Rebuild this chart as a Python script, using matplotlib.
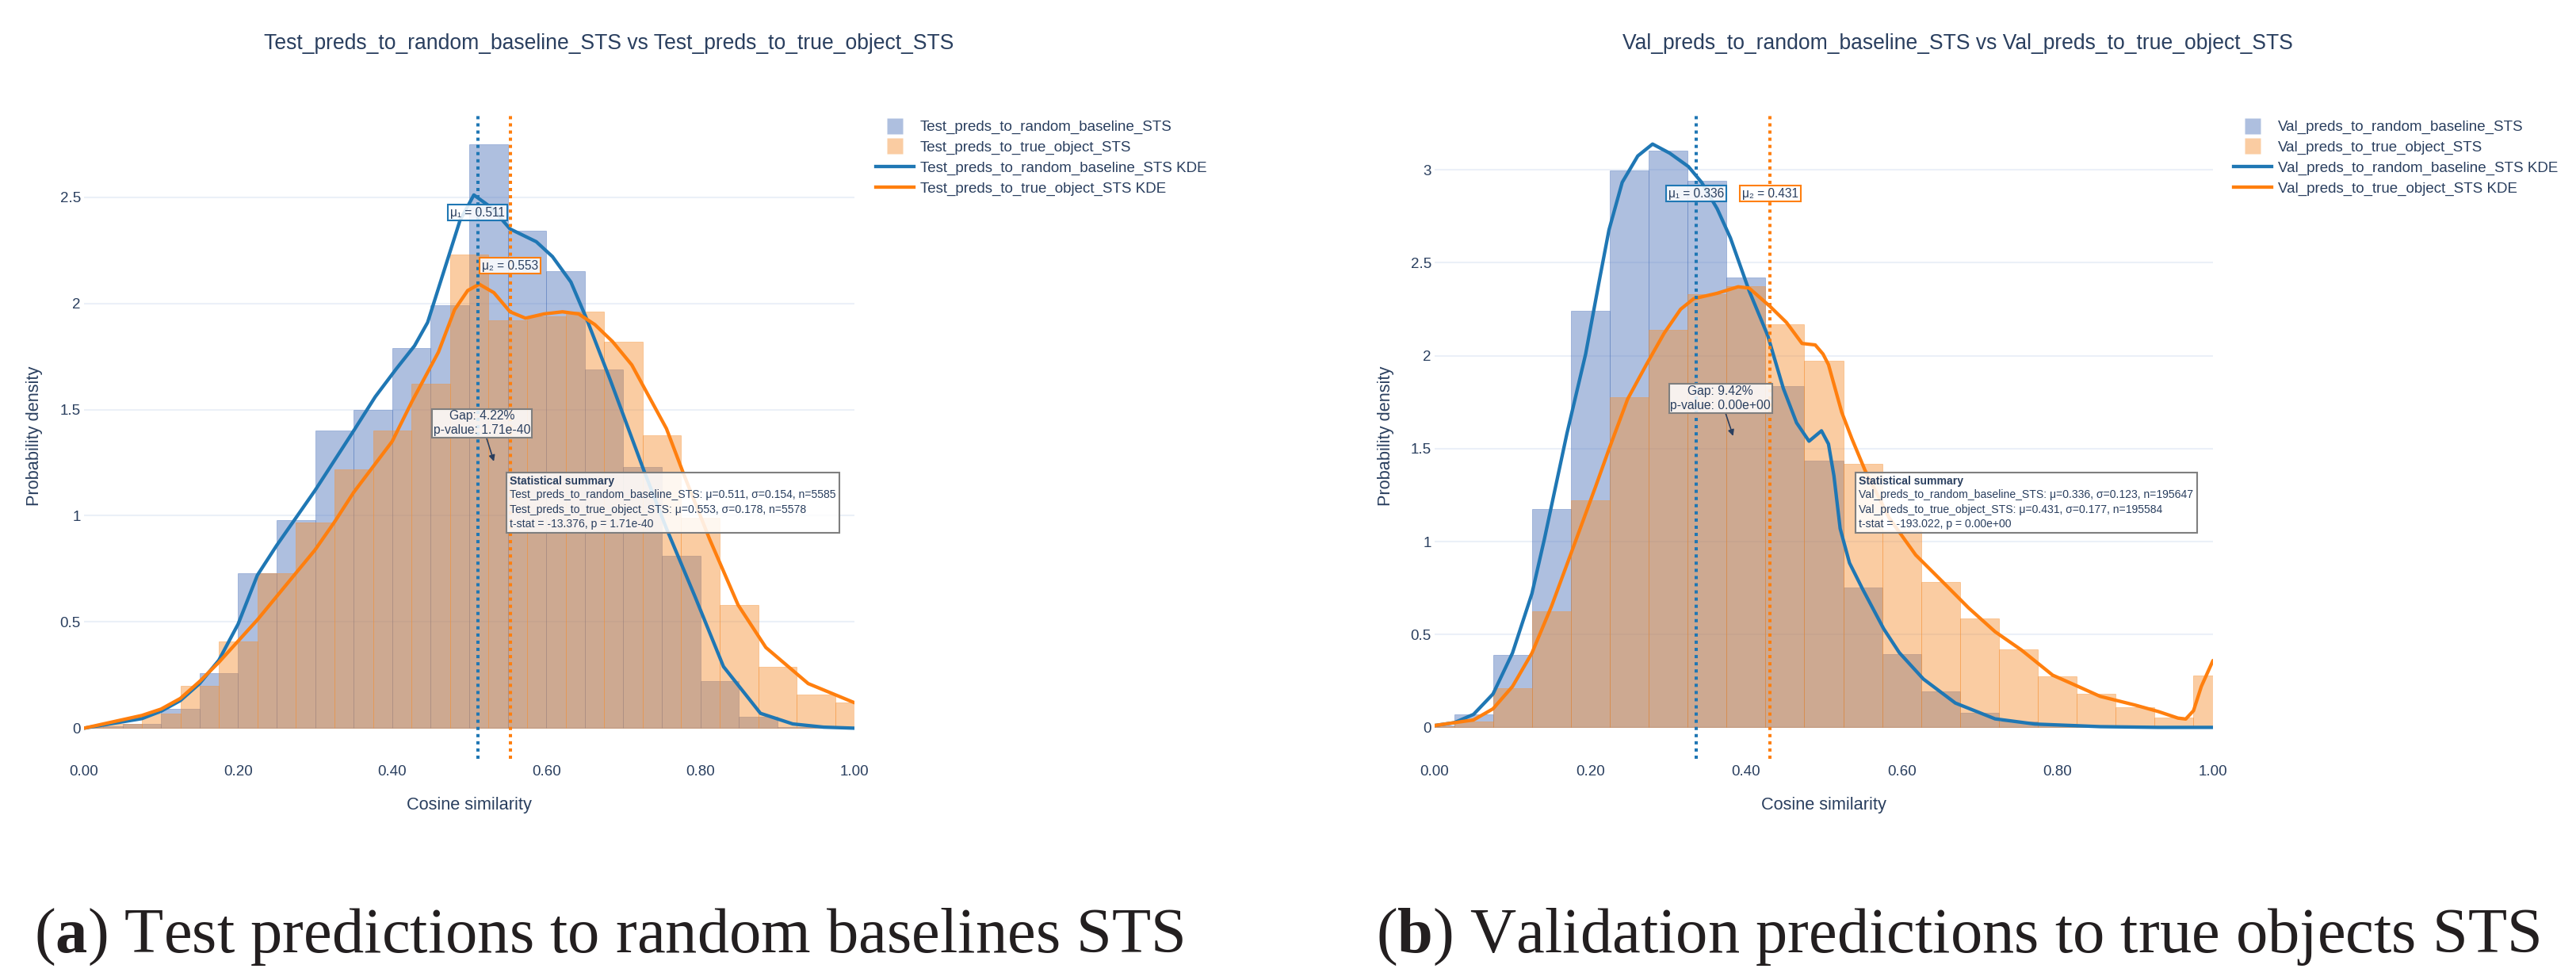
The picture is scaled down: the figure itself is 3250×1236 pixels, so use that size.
import matplotlib
matplotlib.use("Agg")
import matplotlib.pyplot as plt
from matplotlib.lines import Line2D
from matplotlib.patches import Rectangle
import numpy as np

plt.rcParams['font.family'] = ['Liberation Sans', 'DejaVu Sans']
plt.rcParams['mathtext.fontset'] = 'custom'
plt.rcParams['mathtext.rm'] = 'Liberation Serif'
plt.rcParams['mathtext.bf'] = 'Liberation Serif:bold'

# ---------------- data: test split ----------------
test_names = ["Test_preds_to_random_baseline_STS", "Test_preds_to_true_object_STS"]
test_bin_width = 0.05
test_rand_bin_start = 0.0
test_rand_hist = [0.01, 0.02, 0.09, 0.26, 0.73, 0.98, 1.40, 1.50, 1.79, 1.99,
                  2.75, 2.34, 2.15, 1.69, 1.23, 0.81, 0.22, 0.055, 0.005, 0.0]
test_true_bin_start = -0.025
test_true_hist = [0.005, 0.02, 0.07, 0.20, 0.41, 0.73, 0.97, 1.22, 1.40, 1.62, 2.23,
                  1.92, 1.94, 1.96, 1.82, 1.38, 0.99, 0.58, 0.29, 0.16, 0.12]
test_rand_kde_x = [0.0, 0.05, 0.075, 0.10, 0.125, 0.15, 0.175, 0.20, 0.225, 0.25, 0.275, 0.30,
                   0.325, 0.35, 0.378, 0.405, 0.429, 0.446, 0.474, 0.488, 0.506, 0.529, 0.553,
                   0.587, 0.608, 0.632, 0.652, 0.683, 0.727, 0.756, 0.793, 0.830, 0.878, 0.92,
                   0.96, 1.0]
test_rand_kde_y = [0.0, 0.03, 0.045, 0.08, 0.13, 0.21, 0.32, 0.49, 0.72, 0.86, 0.99, 1.12,
                   1.26, 1.40, 1.56, 1.69, 1.80, 1.91, 2.23, 2.39, 2.51, 2.45, 2.35,
                   2.29, 2.22, 2.10, 1.93, 1.64, 1.21, 0.94, 0.62, 0.29, 0.07, 0.02,
                   0.005, 0.0]
test_true_kde_x = [0.0, 0.05, 0.075, 0.10, 0.125, 0.15, 0.175, 0.20, 0.225, 0.25, 0.275, 0.30,
                   0.325, 0.35, 0.375, 0.40, 0.426, 0.460, 0.481, 0.498, 0.513, 0.532, 0.553,
                   0.573, 0.597, 0.621, 0.642, 0.663, 0.686, 0.711, 0.756, 0.779, 0.812, 0.849,
                   0.885, 0.940, 1.0]
test_true_kde_y = [0.0, 0.04, 0.06, 0.09, 0.14, 0.22, 0.31, 0.41, 0.51, 0.62, 0.73, 0.84,
                   0.97, 1.11, 1.23, 1.35, 1.54, 1.77, 1.97, 2.06, 2.09, 2.05, 1.96,
                   1.93, 1.95, 1.96, 1.95, 1.90, 1.82, 1.71, 1.41, 1.19, 0.89, 0.58,
                   0.38, 0.21, 0.12]
test_means = [0.511, 0.553]
test_stds = [0.154, 0.178]
test_ns = [5585, 5578]
test_tstat = -13.376
test_p = 1.71e-40
test_gap = 4.22

# ---------------- data: validation split ----------------
val_names = ["Val_preds_to_random_baseline_STS", "Val_preds_to_true_object_STS"]
val_bin_width = 0.05
val_rand_bin_start = -0.025
val_rand_hist = [0.01, 0.068, 0.388, 1.174, 2.242, 2.998, 3.104, 2.94, 2.421, 1.838, 1.436,
                 0.754, 0.395, 0.195, 0.080, 0.03, 0.01, 0.005, 0.002, 0.001, 0.001]
val_true_bin_start = -0.025
val_true_hist = [0.005, 0.03, 0.21, 0.625, 1.222, 1.777, 2.139, 2.331, 2.374, 2.168, 1.973,
                 1.418, 1.06, 0.783, 0.587, 0.421, 0.274, 0.181, 0.107, 0.054, 0.28]
val_rand_kde_x = [0.0, 0.025, 0.05, 0.075, 0.10, 0.125, 0.141, 0.170, 0.194, 0.211, 0.224,
                  0.241, 0.261, 0.280, 0.302, 0.326, 0.343, 0.363, 0.380, 0.404, 0.428, 0.448,
                  0.465, 0.481, 0.497, 0.506, 0.513, 0.521, 0.533, 0.550, 0.577, 0.597, 0.628,
                  0.669, 0.720, 0.771, 0.855, 0.93, 1.0]
val_rand_kde_y = [0.01, 0.025, 0.07, 0.18, 0.40, 0.72, 1.013, 1.582, 2.009, 2.392, 2.677,
                  2.933, 3.075, 3.139, 3.09, 3.018, 2.933, 2.791, 2.634, 2.350, 2.108, 1.824,
                  1.639, 1.54, 1.596, 1.525, 1.354, 1.070, 0.885, 0.743, 0.530, 0.402, 0.260,
                  0.131, 0.046, 0.018, 0.004, 0.0, 0.0]
val_true_kde_x = [0.0, 0.05, 0.075, 0.10, 0.125, 0.15, 0.182, 0.207, 0.224, 0.248, 0.272,
                  0.295, 0.316, 0.333, 0.363, 0.390, 0.404, 0.431, 0.452, 0.472, 0.489, 0.499,
                  0.506, 0.523, 0.536, 0.553, 0.584, 0.618, 0.652, 0.686, 0.720, 0.754, 0.794,
                  0.821, 0.855, 0.90, 0.93, 0.955, 0.965, 0.975, 0.985, 1.0]
val_true_kde_y = [0.01, 0.04, 0.10, 0.22, 0.40, 0.65, 1.013, 1.298, 1.497, 1.767, 1.952,
                  2.122, 2.25, 2.307, 2.336, 2.371, 2.364, 2.265, 2.179, 2.066, 2.058, 2.009,
                  1.952, 1.696, 1.554, 1.383, 1.127, 0.928, 0.786, 0.643, 0.515, 0.416, 0.281,
                  0.231, 0.167, 0.12, 0.085, 0.05, 0.045, 0.09, 0.22, 0.36]
val_means = [0.336, 0.431]
val_stds = [0.123, 0.177]
val_ns = [195647, 195584]
val_tstat = -193.022
val_p = 0.0
val_gap = 9.42

x_ticks = [0.0, 0.2, 0.4, 0.6, 0.8, 1.0]

# ---------------- style ----------------
TXT = '#2a3f5f'
HIST_BLUE = (76/255, 115/255, 186/255)
HIST_ORANGE = (245/255, 143/255, 50/255)
HIST_ALPHA = 0.45
KDE_BLUE = '#1f77b4'
KDE_ORANGE = '#ff7f0e'
GRID = '#ebf0f8'

W, H = 3250, 1236
fig = plt.figure(figsize=(W / 100, H / 100), dpi=100)


def fx(px):
    return px / W


def fy(py):
    return 1 - py / H


def panel(x0, x1, ylim, yticks, names, hists, kdes, means, label_ys,
          gap_text, arrow_y, gap_pos, stats_lines, stats_box, legend_x,
          title_x, caption):
    top, bot = 143, 957
    ax = fig.add_axes([fx(x0), fy(bot), (x1 - x0) / W, (bot - top) / H])
    ax.set_xlim(0, 1)
    ax.set_ylim(*ylim)
    for s in ax.spines.values():
        s.set_visible(False)
    ax.set_yticks(yticks)
    ax.set_yticklabels([f"{t:g}" for t in yticks])
    ax.set_xticks(x_ticks)
    ax.set_xticklabels([f"{t:.2f}" for t in x_ticks])
    ax.tick_params(axis='both', length=0, labelsize=13.5, labelcolor=TXT)
    ax.tick_params(axis='y', pad=3)
    ax.tick_params(axis='x', pad=6)
    ax.grid(axis='y', color=GRID, lw=1.5)
    ax.set_axisbelow(True)

    # histograms
    for (start, width, h), col, z in zip(hists, [HIST_BLUE, HIST_ORANGE], [1, 2]):
        edges = start + width * np.arange(len(h))
        ax.bar(edges, h, width=width, align='edge', color=col, alpha=HIST_ALPHA,
               edgecolor=col, linewidth=0.6, zorder=z)

    # KDE lines
    for (kx, ky), col, z in zip(kdes, [KDE_BLUE, KDE_ORANGE], [3, 4]):
        ax.plot(kx, ky, color=col, lw=3.1, zorder=z, solid_joinstyle='round',
                solid_capstyle='round')

    # mean lines and labels
    for i, (m, col, ly) in enumerate(zip(means, [KDE_BLUE, KDE_ORANGE], label_ys)):
        ax.axvline(m, ymin=0, ymax=1, color=col, lw=2.9, ls=(0, (1.0, 1.25)), zorder=5)
        ax.text(m, ly, f"μ{'₁₂'[i]} = {m:.3f}", ha='center', va='center', fontsize=11.2,
                color=TXT, zorder=9,
                bbox=dict(boxstyle='square,pad=0.18', fc=(1, 1, 1, 0.85), ec=col, lw=1.5))

    # gap annotation with arrow
    ax.annotate(gap_text, xy=(np.mean(means), arrow_y), xycoords='data',
                xytext=gap_pos, textcoords='axes fraction', ha='center', va='center',
                fontsize=11.3, color=TXT, linespacing=1.25, zorder=9,
                bbox=dict(boxstyle='square,pad=0.12', fc=(1, 1, 1, 0.85), ec='#7f7f7f', lw=1.5),
                arrowprops=dict(arrowstyle='-|>', color=TXT, lw=1.2, mutation_scale=11,
                                shrinkA=0, shrinkB=0))

    # statistical summary box
    bx0, bx1, by_top, by_bot, tx = stats_box
    ax.add_patch(Rectangle((bx0, by_bot), bx1 - bx0, by_top - by_bot, transform=ax.transAxes,
                           fc=(1, 1, 1, 0.85), ec='#7f7f7f', lw=1.5, zorder=8))
    line_ys = [0.4303, 0.4091, 0.3854, 0.3633]
    for j, (ln, yy) in enumerate(zip(stats_lines, line_ys)):
        ax.text(tx, yy, ln, transform=ax.transAxes, ha='left', va='center', fontsize=10.1,
                color=TXT, fontweight='bold' if j == 0 else 'normal', zorder=9)

    # axis titles
    ax.text(0.5, -0.0713, 'Cosine similarity', transform=ax.transAxes, ha='center',
            va='center', fontsize=15.7, color=TXT)
    ax.text(-62 / (x1 - x0), 0.5, 'Probability density', transform=ax.transAxes,
            rotation=90, ha='center', va='center', fontsize=15.7, color=TXT)

    # legend
    handles = [Line2D([0], [0], marker='s', ms=14.4, ls='none', mfc=HIST_BLUE, mec='none',
                      alpha=HIST_ALPHA),
               Line2D([0], [0], marker='s', ms=14.4, ls='none', mfc=HIST_ORANGE, mec='none',
                      alpha=HIST_ALPHA),
               Line2D([0], [0], color=KDE_BLUE, lw=3.1),
               Line2D([0], [0], color=KDE_ORANGE, lw=3.1)]
    labels = [names[0], names[1], names[0] + ' KDE', names[1] + ' KDE']
    ax.legend(handles, labels, loc='upper left', bbox_to_anchor=(fx(legend_x), fy(152)),
              bbox_transform=fig.transFigure, frameon=False, borderpad=0, borderaxespad=0,
              handlelength=2.56, handletextpad=0.43, labelspacing=0.45, fontsize=13.5,
              labelcolor=TXT)

    # title and caption
    fig.text(fx(title_x), fy(62), f"{names[0]} vs {names[1]}", ha='center', va='baseline',
             fontsize=19.1, color=TXT)
    fig.text(fx(title_x), fy(1201), caption, ha='center', va='baseline',
             family='Liberation Serif', fontsize=58, color='#231f20')
    return ax


def stats_text(names, means, stds, ns, tstat, p):
    return ["Statistical summary",
            f"{names[0]}: μ={means[0]:.3f}, σ={stds[0]:.3f}, n={ns[0]}",
            f"{names[1]}: μ={means[1]:.3f}, σ={stds[1]:.3f}, n={ns[1]}",
            f"t-stat = {tstat:.3f}, p = {p:.2e}"]


panel(106, 1078, (-0.144, 2.894), [0, 0.5, 1, 1.5, 2, 2.5], test_names,
      [(test_rand_bin_start, test_bin_width, test_rand_hist),
       (test_true_bin_start, test_bin_width, test_true_hist)],
      [(test_rand_kde_x, test_rand_kde_y), (test_true_kde_x, test_true_kde_y)],
      test_means, [2.427, 2.177],
      f"Gap: {test_gap:.2f}%\np-value: {test_p:.2e}", 1.256, (0.5165, 0.5197),
      stats_text(test_names, test_means, test_stds, test_ns, test_tstat, test_p),
      (0.5484, 0.9805, 0.4435, 0.3501, 0.5525), 1105, 768,
      r"($\mathbf{a}$) Test predictions to random baselines STS")

panel(1810, 2792, (-0.169, 3.304), [0, 0.5, 1, 1.5, 2, 2.5, 3], val_names,
      [(val_rand_bin_start, val_bin_width, val_rand_hist),
       (val_true_bin_start, val_bin_width, val_true_hist)],
      [(val_rand_kde_x, val_rand_kde_y), (val_true_kde_x, val_true_kde_y)],
      val_means, [2.873, 2.873],
      f"Gap: {val_gap:.2f}%\np-value: {val_p:.2e}", 1.568, (0.3674, 0.5587),
      stats_text(val_names, val_means, val_stds, val_ns, val_tstat, val_p),
      (0.5407, 0.9796, 0.4435, 0.3501, 0.5443), 2818, 2470,
      r"($\mathbf{b}$) Validation predictions to true objects STS")

fig.savefig('out.png', dpi=100)
